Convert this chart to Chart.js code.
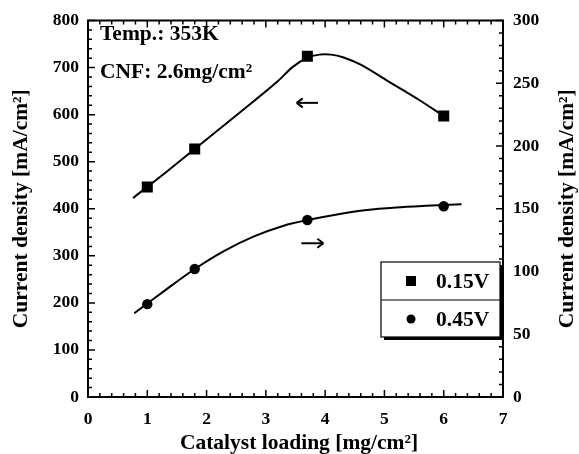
<!DOCTYPE html>
<html>
<head>
<meta charset="utf-8">
<script src="https://cdn.jsdelivr.net/npm/chart.js@4/dist/chart.umd.min.js"></script>
<style>
html,body{margin:0;padding:0;background:#fff;}
#wrap{width:579px;height:454px;position:relative;}
</style>
</head>
<body>
<div id="wrap"><canvas id="c" width="579" height="454"></canvas></div>
<script>
// ---- data ----
const loadings = [1.0, 1.8, 3.7, 6.0];                 // catalyst loading [mg/cm2]
const density015 = [446, 527, 724, 597];               // 0.15 V, left axis [mA/cm2]
const density045 = [74, 102, 141, 152];                // 0.45 V, right axis [mA/cm2]

// fitted guide curves as drawn in the figure
const fit015X = [0.76, 1.3, 1.8, 2.3, 2.8, 3.2, 3.45, 3.7, 3.9, 4.1, 4.3, 4.6, 5.1, 5.6, 6.0];
const fit015Y = [423, 476, 527, 578, 629, 671, 701, 721, 727.5, 727.5, 722, 706, 668, 630, 597];
const fit045X = [0.78, 1.3, 1.8, 2.3, 2.8, 3.3, 3.7, 4.2, 4.7, 5.2, 5.7, 6.3];
const fit045Y = [66.7, 85, 102, 116.5, 128, 136.5, 141, 145.5, 149, 151, 152.3, 153.6];

const xTicks = [0, 1, 2, 3, 4, 5, 6, 7];
const yLeftTicks = [0, 100, 200, 300, 400, 500, 600, 700, 800];
const yRightTicks = [0, 50, 100, 150, 200, 250, 300];

const seriesLabels = ['0.15V', '0.45V'];
const xTitle = 'Catalyst loading [mg/cm\u00B2]';
const yTitle = 'Current density [mA/cm\u00B2]';
const note1 = 'Temp.: 353K';
const note2 = 'CNF: 2.6mg/cm\u00B2';

const FONT = '"Liberation Serif", "Times New Roman", serif';

const pts = (xs, ys) => xs.map((x, i) => ({x: x, y: ys[i]}));

function arrow(ctx, x1, x2, y) {
  // arrow from x1 to x2 (head at x2)
  const dir = Math.sign(x2 - x1);
  ctx.beginPath();
  ctx.moveTo(x1, y); ctx.lineTo(x2, y);
  ctx.stroke();
  ctx.beginPath();
  ctx.moveTo(x2, y);
  ctx.lineTo(x2 - dir * 6, y - 4.5);
  ctx.moveTo(x2, y);
  ctx.lineTo(x2 - dir * 6, y + 4.5);
  ctx.stroke();
}

const decor = {
  id: 'decor',
  afterDraw(chart) {
    const ctx = chart.ctx;
    const a = chart.chartArea;
    const sx = chart.scales.x, sy = chart.scales.y, sy2 = chart.scales.y2;
    ctx.save();
    ctx.strokeStyle = '#000';
    ctx.fillStyle = '#000';
    // frame
    ctx.lineWidth = 2;
    ctx.strokeRect(a.left, a.top, a.right - a.left, a.bottom - a.top);
    // ticks (inward)
    ctx.lineWidth = 1.5;
    ctx.beginPath();
    for (let i = 0; i <= 35; i++) {
      const v = i * 0.2;
      const px = sx.getPixelForValue(v);
      const len = (i % 5 === 0) ? 7 : 4;
      ctx.moveTo(px, a.bottom); ctx.lineTo(px, a.bottom - len);
      ctx.moveTo(px, a.top); ctx.lineTo(px, a.top + len);
    }
    for (let i = 0; i <= 40; i++) {
      const v = i * 20;
      const py = sy.getPixelForValue(v);
      const len = (i % 5 === 0) ? 7 : 4;
      ctx.moveTo(a.left, py); ctx.lineTo(a.left + len, py);
    }
    for (let i = 0; i <= 30; i++) {
      const v = i * 10;
      const py = sy2.getPixelForValue(v);
      const len = (i % 5 === 0) ? 7 : 4;
      ctx.moveTo(a.right, py); ctx.lineTo(a.right - len, py);
    }
    ctx.stroke();

    // axis titles
    ctx.font = 'bold 21.5px ' + FONT;
    ctx.textAlign = 'center';
    ctx.textBaseline = 'middle';
    ctx.fillText(xTitle, 299, 443);
    ctx.save();
    ctx.translate(21, (a.top + a.bottom) / 2);
    ctx.rotate(-Math.PI / 2);
    ctx.fillText(yTitle, 0, 0);
    ctx.restore();
    ctx.save();
    ctx.translate(567, (a.top + a.bottom) / 2);
    ctx.rotate(-Math.PI / 2);
    ctx.fillText(yTitle, 0, 0);
    ctx.restore();

    // notes
    ctx.textAlign = 'left';
    ctx.font = 'bold 21.5px ' + FONT;
    ctx.fillText(note1, a.left + 12, 34);
    ctx.fillText(note2, a.left + 12, 72);

    // arrows
    ctx.lineWidth = 2;
    arrow(ctx, sx.getPixelForValue(3.88), sx.getPixelForValue(3.52), sy.getPixelForValue(625));
    arrow(ctx, sx.getPixelForValue(3.6), sx.getPixelForValue(3.97), sy2.getPixelForValue(122.5));

    // legend box
    const lx = 381, ly = 262, lw = 119, lh = 75;
    ctx.fillStyle = '#000';
    ctx.fillRect(lx + 3, ly + 3, lw, lh);
    ctx.fillStyle = '#fff';
    ctx.fillRect(lx, ly, lw, lh);
    ctx.lineWidth = 1.2;
    ctx.strokeStyle = '#000';
    ctx.strokeRect(lx, ly, lw, lh);
    ctx.beginPath();
    ctx.moveTo(lx, ly + 38); ctx.lineTo(lx + lw, ly + 38);
    ctx.stroke();
    ctx.fillStyle = '#000';
    ctx.fillRect(411 - 5, 281 - 5, 10, 10);
    ctx.beginPath();
    ctx.arc(411, 319, 4.5, 0, Math.PI * 2);
    ctx.fill();
    ctx.font = 'bold 21.5px ' + FONT;
    ctx.textAlign = 'left';
    ctx.fillText(seriesLabels[0], 436, 282);
    ctx.fillText(seriesLabels[1], 436, 320);
    ctx.restore();
  }
};

new Chart(document.getElementById('c'), {
  type: 'scatter',
  data: {
    datasets: [
      { label: 'fit ' + seriesLabels[0], data: pts(fit015X, fit015Y), yAxisID: 'y',
        showLine: true, pointRadius: 0, borderColor: '#000', borderWidth: 2, tension: 0.3 },
      { label: 'fit ' + seriesLabels[1], data: pts(fit045X, fit045Y), yAxisID: 'y2',
        showLine: true, pointRadius: 0, borderColor: '#000', borderWidth: 2, tension: 0.3 },
      { label: seriesLabels[0], data: pts(loadings, density015), yAxisID: 'y',
        pointStyle: 'rect', pointRadius: 7.8, backgroundColor: '#000', borderColor: '#000', borderWidth: 0 },
      { label: seriesLabels[1], data: pts(loadings, density045), yAxisID: 'y2',
        pointStyle: 'circle', pointRadius: 5.2, backgroundColor: '#000', borderColor: '#000', borderWidth: 0 }
    ]
  },
  options: {
    responsive: false,
    animation: false,
    layout: { padding: { top: 18, left: 0, right: 0, bottom: 0 } },
    plugins: { legend: { display: false }, tooltip: { enabled: false } },
    scales: {
      x: {
        type: 'linear', min: 0, max: 7,
        afterBuildTicks: s => { s.ticks = xTicks.map(v => ({value: v})); },
        afterFit: s => { s.height = 57; },
        grid: { display: false, drawTicks: false },
        border: { display: false },
        ticks: { color: '#000', padding: 12, font: { family: FONT, size: 17.5, weight: 'bold' }, maxRotation: 0 }
      },
      y: {
        type: 'linear', position: 'left', min: 0, max: 800,
        afterBuildTicks: s => { s.ticks = yLeftTicks.map(v => ({value: v})); },
        afterFit: s => { s.width = 88; },
        grid: { display: false, drawTicks: false },
        border: { display: false },
        ticks: { color: '#000', padding: 9, font: { family: FONT, size: 17.5, weight: 'bold' } }
      },
      y2: {
        type: 'linear', position: 'right', min: 0, max: 300,
        afterBuildTicks: s => { s.ticks = yRightTicks.map(v => ({value: v})); },
        afterFit: s => { s.width = 76; },
        grid: { display: false, drawTicks: false },
        border: { display: false },
        ticks: { color: '#000', padding: 10, font: { family: FONT, size: 17.5, weight: 'bold' } }
      }
    }
  },
  plugins: [decor]
});
</script>
</body>
</html>
